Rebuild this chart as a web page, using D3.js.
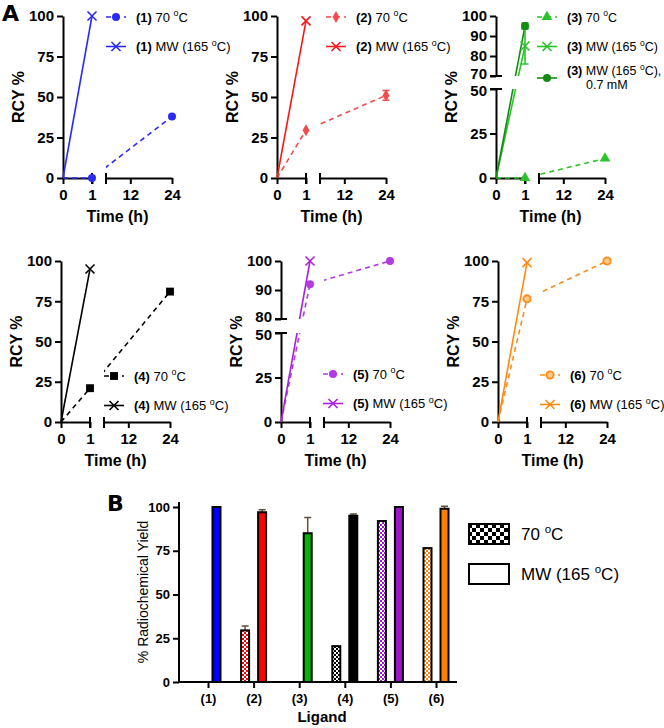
<!DOCTYPE html>
<html>
<head>
<meta charset="utf-8">
<script src="https://cdn.jsdelivr.net/npm/d3@7"></script>
<style>
body { margin: 0; background: #fff; }
svg text { font-family: "Liberation Sans", Arial, sans-serif; fill: #000; }
</style>
</head>
<body>
<svg id="chart" width="664" height="728"></svg>
<script>
// ---- data ----
var ligands = ["(1)", "(2)", "(3)", "(4)", "(5)", "(6)"];
var times = [0, 1, 24];
var timesMW = [0, 1];
var rcy70 = [[0, 0, 38], [0, 29.5, 51], [0, 0, 11], [0, 21, 81], [0, 92, 100], [0, 76.5, 100]];
var rcy70Err = [[0, 0, 0], [0, 0, 3], [0, 0, 0], [0, 0, 0], [0, 0, 0], [0, 0, 0]];
var rcyMW = [[0, 100], [0, 97], [0, 85], [0, 95], [0, 100], [0, 99]];
var rcyMWErr = [[0, 0], [0, 0], [0, 9], [0, 0], [0, 0], [0, 0]];
var rcyMW07 = [0, 95];      // (3) MW (165 oC), 0.7 mM
var rcyMW07Err = [0, 1.5];
var xTicksA = [0, 1];
var xTicksB = [12, 24];
var yTicks = [0, 25, 50, 75, 100];
var yTicksLow = [0, 25, 50];
var yTicksHigh3 = [70, 80, 90, 100];
var yTicksHigh5 = [80, 90, 100];
var bar70 = [0, 29.5, 0, 20.5, 92, 76.5];
var bar70Err = [0, 2.5, 0, 0, 0, 0];
var barMW = [100, 97, 85, 95, 100, 99];
var barMWErr = [0, 1.5, 9, 1, 0, 1.5];
var barTicks = [0, 25, 50, 75, 100];

var colors = ["#2b2bf5", "#f41a1a", "#2ac42a", "#000000", "#a823dc", "#ff8a12"];
var colors70 = ["#2b2bf5", "#f24c4c", "#2ac42a", "#000000", "#b23ae2", "#ff8a12"];
var barColors = ["#0000ff", "#ff0000", "#00b400", "#000000", "#9c16cc", "#ff8000"];
var darkGreen = "#138c13";
var shapes70 = ["circle", "diamond", "triangle", "square", "circle", "ring"];

// panel placement (pixels)
var panels = [
	{x0: 63,  y0: 178, top: 16,  brk: null, lx: 106, ly: 17},
	{x0: 277, y0: 178, top: 16,  brk: null, lx: 326, ly: 17},
	{x0: 496, y0: 178, top: 16,  brk: 70, hiH: 60, lx: 537, ly: 17},
	{x0: 61,  y0: 422, top: 261, brk: null, lx: 104, ly: 376},
	{x0: 281, y0: 422, top: 261, brk: 80, hiH: 58, lx: 323, ly: 374},
	{x0: 498, y0: 422, top: 261, brk: null, lx: 540, ly: 375}
];

var FONT = "Liberation Sans, Arial, sans-serif";
var svg = d3.select("#chart");
var defs = svg.append("defs");
var fmt = d3.format("d");

// superscript "o" before C
function writeDeg(text, str, size) {
	var k = str.indexOf("°");
	text.append("tspan").text(str.slice(0, k));
	text.append("tspan").attr("dy", -size * 0.42).attr("font-size", size * 0.68).text("o");
	text.append("tspan").attr("dy", size * 0.42).text(str.slice(k + 1));
}

function styleAxis(sel, size) {
	sel.attr("font-size", size).attr("font-family", FONT).attr("font-weight", "bold");
	sel.selectAll("path, line").attr("stroke", "#000").attr("stroke-width", 2);
	sel.selectAll("text").attr("fill", "#000");
}

function drawMarker(g, shape, x, y, color) {
	if (shape === "circle") {
		g.append("circle").attr("cx", x).attr("cy", y).attr("r", 4).attr("fill", color);
	} else if (shape === "ring") {
		g.append("circle").attr("cx", x).attr("cy", y).attr("r", 3.6)
			.attr("fill", "#ffc98a").attr("stroke", color).attr("stroke-width", 1.8);
	} else if (shape === "x") {
		g.append("path")
			.attr("d", "M" + (x - 4.5) + "," + (y - 4.5) + "L" + (x + 4.5) + "," + (y + 4.5) +
				"M" + (x - 4.5) + "," + (y + 4.5) + "L" + (x + 4.5) + "," + (y - 4.5))
			.attr("stroke", color).attr("stroke-width", 1.6).attr("fill", "none");
	} else {
		var sym = {diamond: d3.symbolDiamond, triangle: d3.symbolTriangle, square: d3.symbolSquare}[shape];
		var size = {diamond: 42, triangle: 50, square: 62}[shape];
		g.append("path").attr("d", d3.symbol(sym, size)())
			.attr("transform", "translate(" + x + "," + y + ")").attr("fill", color);
	}
}

// ---- panel A ----
svg.append("text").attr("x", 2).attr("y", 21).attr("font-size", 22)
	.attr("font-weight", "900").style("font-family", "DejaVu Sans").text("A");

panels.forEach(function(p, i) {
	var g = svg.append("g");
	var xa = d3.scaleLinear().domain([0, 1]).range([p.x0, p.x0 + 29]);
	var xb = d3.scaleLinear().domain([5, 24]).range([p.x0 + 43, p.x0 + 109]);
	var xs = function(t) { return t <= 1 ? xa(t) : xb(t); };
	var ylo, yhi = null;
	if (p.brk) {
		ylo = d3.scaleLinear().domain([0, 50]).range([p.y0, p.y0 - 89]);
		yhi = d3.scaleLinear().domain([p.brk, 100]).range([p.top + p.hiH, p.top]);
	} else {
		ylo = d3.scaleLinear().domain([0, 100]).range([p.y0, p.top]);
	}
	var ys = function(v) { return (yhi && v > 50) ? yhi(v) : ylo(v); };

	// y axis
	if (p.brk) {
		var lowAx = g.append("g").attr("transform", "translate(" + p.x0 + ",0)")
			.call(d3.axisLeft(ylo).tickValues(yTicksLow).tickFormat(fmt).tickSize(6).tickSizeOuter(0))
			.call(styleAxis, 15);
		var hiAx = g.append("g").attr("transform", "translate(" + p.x0 + ",0)")
			.call(d3.axisLeft(yhi).tickValues(p.brk === 70 ? yTicksHigh3 : yTicksHigh5).tickFormat(fmt).tickSize(6).tickSizeOuter(0))
			.call(styleAxis, 15);
		// nudge the two labels that sit at the break apart a little
		lowAx.selectAll(".tick text").filter(function(d) { return d === 50; }).attr("y", 2);
		hiAx.selectAll(".tick text").filter(function(d) { return d === p.brk; }).attr("y", -2);
		[ylo(50), yhi(p.brk)].forEach(function(yy) {
			g.append("line").attr("x1", p.x0 - 6).attr("x2", p.x0 + 6).attr("y1", yy).attr("y2", yy)
				.attr("stroke", "#000").attr("stroke-width", 2);
		});
	} else {
		g.append("g").attr("transform", "translate(" + p.x0 + ",0)")
			.call(d3.axisLeft(ylo).tickValues(yTicks).tickFormat(fmt).tickSize(6).tickSizeOuter(0))
			.call(styleAxis, 15);
	}
	// x axis, broken
	g.append("g").attr("transform", "translate(0," + p.y0 + ")")
		.call(d3.axisBottom(xa).tickValues(xTicksA).tickFormat(fmt).tickSize(6).tickPadding(5).tickSizeOuter(0))
		.call(styleAxis, 15);
	g.append("g").attr("transform", "translate(0," + p.y0 + ")")
		.call(d3.axisBottom(xb).tickValues(xTicksB).tickFormat(fmt).tickSize(6).tickPadding(5).tickSizeOuter(0))
		.call(styleAxis, 15);
	[xa(1), xb(5)].forEach(function(xx) {
		g.append("line").attr("x1", xx).attr("x2", xx).attr("y1", p.y0 - 5).attr("y2", p.y0 + 6)
			.attr("stroke", "#000").attr("stroke-width", 2);
	});

	g.append("text").attr("transform", "translate(" + (p.x0 - 45) + "," + ((p.y0 + p.top) / 2) + ") rotate(-90)")
		.attr("text-anchor", "middle").attr("dy", "0.36em")
		.attr("font-size", 16).attr("font-weight", "bold").text("RCY %");
	g.append("text").attr("x", (xa(0) + xb(24)) / 2).attr("y", p.y0 + 44)
		.attr("text-anchor", "middle").attr("font-size", 16).attr("font-weight", "bold").text("Time (h)");

	// clip out the axis gaps
	var cp = defs.append("clipPath").attr("id", "clip" + i);
	var xr = [[p.x0 - 10, xa(1) + 1], [xb(5), xb(24) + 10]];
	var yr = p.brk ? [[p.top - 10, yhi(p.brk)], [ylo(50), p.y0 + 10]] : [[p.top - 10, p.y0 + 10]];
	xr.forEach(function(a) {
		yr.forEach(function(b) {
			cp.append("rect").attr("x", a[0]).attr("y", b[0]).attr("width", a[1] - a[0]).attr("height", b[1] - b[0]);
		});
	});

	var series = [
		{pts: times.map(function(t, k) { return [t, rcy70[i][k], rcy70Err[i][k]]; }),
			color: colors70[i], dashed: true, shape: shapes70[i], label: " 70 °C"},
		{pts: timesMW.map(function(t, k) { return [t, rcyMW[i][k], rcyMWErr[i][k]]; }),
			color: colors[i], dashed: false, shape: "x", label: " MW (165 °C)"}
	];
	if (i === 2) {
		series.push({pts: timesMW.map(function(t, k) { return [t, rcyMW07[k], rcyMW07Err[k]]; }),
			color: darkGreen, dashed: false, shape: "circle", label: " MW (165 °C),", extra: "0.7 mM"});
	}

	var line = d3.line().x(function(d) { return xs(d[0]); }).y(function(d) { return ys(d[1]); });
	var lg = g.append("g").attr("clip-path", "url(#clip" + i + ")");
	series.forEach(function(s) {
		lg.append("path").datum(s.pts).attr("d", line).attr("fill", "none")
			.attr("stroke", s.color).attr("stroke-width", 1.6)
			.attr("stroke-dasharray", s.dashed ? "5,4" : null);
	});
	series.forEach(function(s) {
		s.pts.forEach(function(d) {
			if (d[0] === 0) return;
			var x = xs(d[0]);
			if (d[2] > 0) {
				var y1 = ys(d[1] - d[2]), y2 = ys(d[1] + d[2]);
				g.append("path").attr("d", "M" + x + "," + y1 + "V" + y2 +
					"M" + (x - 3.5) + "," + y1 + "H" + (x + 3.5) + "M" + (x - 3.5) + "," + y2 + "H" + (x + 3.5))
					.attr("stroke", s.color).attr("stroke-width", 1.6).attr("fill", "none");
			}
			drawMarker(g, s.shape, x, ys(d[1]), s.color);
		});
	});

	// legend
	var fs = i === 2 ? 12.5 : 13;
	series.forEach(function(s, j) {
		var y = p.ly + j * 29.5;
		if (j === 2) y = p.ly + 61;
		g.append("line").attr("x1", p.lx).attr("x2", p.lx + 20).attr("y1", y).attr("y2", y)
			.attr("stroke", s.color).attr("stroke-width", 1.6)
			.attr("stroke-dasharray", s.dashed ? "5,4" : null);
		drawMarker(g, s.shape, p.lx + 10, y, s.color);
		var ty = s.extra ? y - 3 : y + 4.5;
		var t = g.append("text").attr("x", p.lx + 30).attr("y", ty).attr("font-size", fs);
		t.append("tspan").attr("font-weight", "bold").text(ligands[i]);
		writeDeg(t, s.label, fs);
		if (s.extra) {
			g.append("text").attr("x", p.lx + 49).attr("y", ty + 14).attr("font-size", fs).text(s.extra);
		}
	});
});

// ---- panel B ----
svg.append("text").attr("x", 107).attr("y", 511).attr("font-size", 22)
	.attr("font-weight", "900").style("font-family", "DejaVu Sans").text("B");

function checker(id, color, cell) {
	var pat = defs.append("pattern").attr("id", id).attr("patternUnits", "userSpaceOnUse")
		.attr("width", cell * 2).attr("height", cell * 2);
	pat.append("rect").attr("width", cell * 2).attr("height", cell * 2).attr("fill", "#fff");
	pat.append("rect").attr("width", cell).attr("height", cell).attr("fill", color);
	pat.append("rect").attr("x", cell).attr("y", cell).attr("width", cell).attr("height", cell).attr("fill", color);
}
barColors.forEach(function(c, i) { checker("chk" + i, c, 2); });
checker("chkLegend", "#000", 4);

var bx = d3.scalePoint().domain(ligands).range([208, 436]);
var by = d3.scaleLinear().domain([0, 100]).range([682, 507]);

var gb = svg.append("g");
gb.append("g").attr("transform", "translate(179,0)")
	.call(d3.axisLeft(by).tickValues(barTicks).tickSize(6).tickSizeOuter(0))
	.call(styleAxis, 13)
	.select(".domain").remove();
gb.append("line").attr("x1", 179).attr("x2", 179).attr("y1", 683).attr("y2", 502)
	.attr("stroke", "#000").attr("stroke-width", 2);
gb.append("g").attr("transform", "translate(0,682)")
	.call(d3.axisBottom(bx).tickSize(6).tickPadding(6).tickSizeOuter(0))
	.call(styleAxis, 13)
	.select(".domain").remove();
gb.append("line").attr("x1", 178).attr("x2", 457).attr("y1", 682).attr("y2", 682)
	.attr("stroke", "#000").attr("stroke-width", 2);

function drawBars(vals, errs, dx, fillFn) {
	ligands.forEach(function(l, i) {
		var v = vals[i];
		if (v <= 0) return;
		var c = bx(l) + dx;
		if (errs[i] > 0) {
			var ye = by(v + errs[i]);
			gb.append("path").attr("d", "M" + c + "," + by(v) + "V" + ye + "M" + (c - 3.5) + "," + ye + "H" + (c + 3.5))
				.attr("stroke", "#5e5040").attr("stroke-width", 1.5).attr("fill", "none");
		}
		gb.append("rect").attr("x", c - 4).attr("y", by(v)).attr("width", 8).attr("height", by(0) - by(v))
			.attr("fill", fillFn(i)).attr("stroke", "#000").attr("stroke-width", 2);
	});
}
drawBars(bar70, bar70Err, -8.5, function(i) { return "url(#chk" + i + ")"; });
drawBars(barMW, barMWErr, 8.5, function(i) { return barColors[i]; });

gb.append("text").attr("transform", "translate(143,592) rotate(-90)").attr("text-anchor", "middle")
	.attr("dy", "0.36em").attr("font-size", 14).text("% Radiochemical Yield");
gb.append("text").attr("x", 322).attr("y", 722).attr("text-anchor", "middle")
	.attr("font-size", 15).attr("font-weight", "bold").text("Ligand");

// legend B
var legB = [{fill: "url(#chkLegend)", label: "70 °C"}, {fill: "#fff", label: "MW (165 °C)"}];
legB.forEach(function(d, j) {
	var y = 524 + j * 40;
	gb.append("rect").attr("x", 469).attr("y", y).attr("width", 40).attr("height", 20)
		.attr("fill", d.fill).attr("stroke", "#000").attr("stroke-width", 2);
	var t = gb.append("text").attr("x", 521).attr("y", y + 16).attr("font-size", 17);
	writeDeg(t, d.label, 17);
});
</script>
</body>
</html>
